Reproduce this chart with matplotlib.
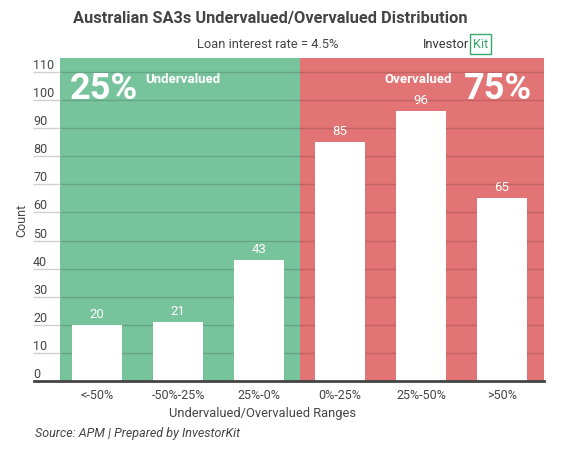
import matplotlib
matplotlib.use('Agg')
import matplotlib.pyplot as plt

plt.rcParams['font.family'] = ['Roboto', 'DejaVu Sans']

categories = ['<-50%', '-50%-25%', '25%-0%', '0%-25%', '25%-50%', '>50%']
counts = [20, 21, 43, 85, 96, 65]
under_share = '25%'
over_share = '75%'

green = '#77c39c'
red = '#e37475'
dark = '#444444'

fig = plt.figure(figsize=(5.74, 4.5), dpi=100)
ax = fig.add_axes([60 / 574, 1 - 381 / 450, 484 / 574, 323 / 450])

x = list(range(len(categories)))
x0, x1 = -37 / 81, 5 + 42 / 81
ax.axvspan(x0, 2.5, color=green, zorder=0, lw=0)
ax.axvspan(2.5, x1, color=red, zorder=0, lw=0)

ax.set_yticks(range(0, 111, 10))
for v in range(10, 111, 10):
    ax.axhline(v, color='black', alpha=0.15, lw=1, zorder=1)

ax.bar(x, counts, width=0.62, color='white', zorder=2)
for xi, c in zip(x, counts):
    ax.text(xi, c + 1.5, str(c), ha='center', va='bottom', color='white',
            fontsize=9.5, zorder=3)

ax.set_xlim(x0, x1)
ax.set_ylim(0, 115)
ax.set_xticks(x)
ax.set_xticklabels(categories, fontsize=9, color=dark)
ax.tick_params(axis='x', length=0, pad=6)
ax.tick_params(axis='y', length=19.4, color='#d0d0d0', width=1, pad=0,
               labelsize=9, labelcolor=dark)
for lab in ax.get_yticklabels():
    lab.set_ha('left')
    lab.set_va('bottom')

for s in ['top', 'right', 'left', 'bottom']:
    ax.spines[s].set_visible(False)
ax.axhline(0, xmin=-26 / 484, xmax=1, color=dark, lw=2, clip_on=False, zorder=4)

fig.text(263 / 574, 1 - 414 / 450, 'Undervalued/Overvalued Ranges',
         ha='center', va='center', fontsize=9.3, color=dark)
fig.text(22 / 574, 1 - 220 / 450, 'Count', rotation=90,
         ha='center', va='center', fontsize=9, color=dark)

tr = ax.transAxes
ax.text(10 / 484, 0.96, under_share, transform=tr, ha='left', va='top',
        color='white', fontsize=26, fontweight='bold', zorder=3)
ax.text(85 / 484, 0.955, 'Undervalued', transform=tr, ha='left', va='top',
        color='white', fontsize=9.5, fontweight='bold', zorder=3)
ax.text(472 / 484, 0.96, over_share, transform=tr, ha='right', va='top',
        color='white', fontsize=26, fontweight='bold', zorder=3)
ax.text(392 / 484, 0.955, 'Overvalued', transform=tr, ha='right', va='top',
        color='white', fontsize=9.5, fontweight='bold', zorder=3)

fig.text(270 / 574, 1 - 19 / 450, 'Australian SA3s Undervalued/Overvalued Distribution',
         ha='center', va='center', fontsize=11.8, fontweight='bold', color=dark)
fig.text(268 / 574, 1 - 44 / 450, 'Loan interest rate = 4.5%',
         ha='center', va='center', fontsize=9.3, color=dark)
fig.text(469 / 574, 1 - 44 / 450, 'Investor', ha='right', va='center',
         fontsize=9.3, color='#333333')
fig.text(473 / 574, 1 - 44 / 450, 'Kit', ha='left', va='center', fontsize=9.3,
         color='#3aa86b',
         bbox=dict(boxstyle='square,pad=0.25', fc='none', ec='#3aa86b', lw=1))

fig.text(35 / 574, 1 - 433 / 450, 'Source: APM | Prepared by InvestorKit',
         ha='left', va='center', fontsize=9, style='italic', color=dark)

fig.savefig('out.png', dpi=100)
